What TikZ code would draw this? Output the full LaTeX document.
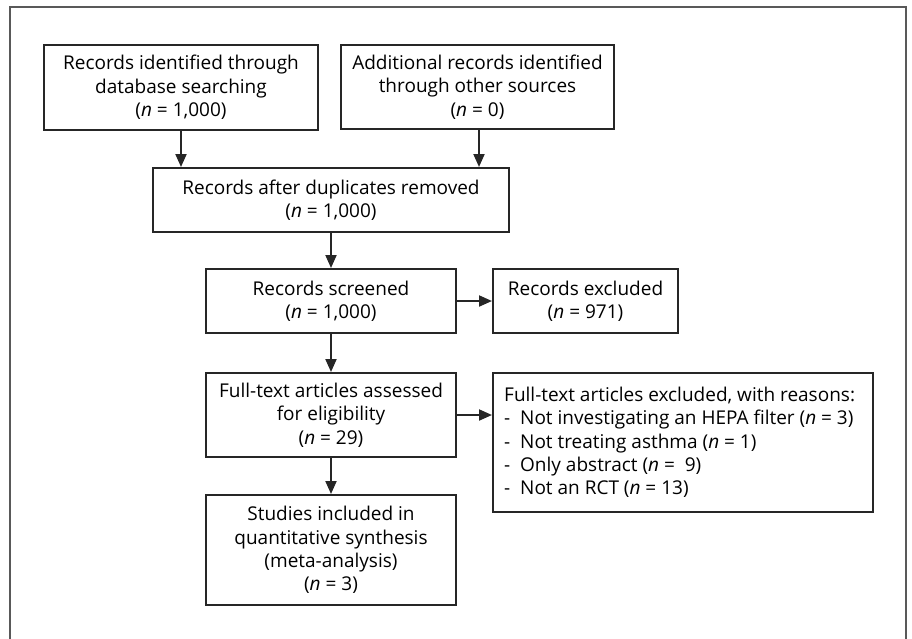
\documentclass[tikz,border=0pt]{standalone}
\usepackage{fontspec}
\setmainfont{Open Sans}
\usetikzlibrary{arrows.meta}
\begin{document}
\begin{tikzpicture}[x=1pt,y=-1pt,
  box/.style={draw=black!85,line width=2pt,rectangle,inner sep=0pt,align=center,
    font=\fontsize{19}{23.3}\selectfont},
  txt/.style={inner sep=0pt,align=left,font=\fontsize{19}{23.3}\selectfont},
  arr/.style={draw=black!85,line width=2pt,-{Triangle[length=13pt,width=11pt]}},
  frame/.style={draw=black!65,line width=1.4pt}]
\useasboundingbox (0,0) rectangle (912,638);
\draw[frame] (10,650) -- (10,7) -- (906,7) -- (906,650);
\node[box,minimum width=274pt,minimum height=85pt] (b1) at (181,87.5)
  {Records identified through\\database searching\\(\emph{n} = 1,000)};
\node[box,minimum width=273pt,minimum height=84pt] (b2) at (477.5,87)
  {Additional records identified\\through other sources\\(\emph{n} = 0)};
\node[box,minimum width=356pt,minimum height=64pt] (b3) at (331,200)
  {Records after duplicates removed\\(\emph{n} = 1,000)};
\node[box,minimum width=250pt,minimum height=64pt] (b4) at (331,301)
  {Records screened\\(\emph{n} = 1,000)};
\node[box,minimum width=185pt,minimum height=64pt] (b5) at (585.5,301)
  {Records excluded\\(\emph{n} = 971)};
\node[box,minimum width=250pt,minimum height=84pt] (b6) at (331,415)
  {Full-text articles assessed\\for eligibility\\(\emph{n} = 29)};
\node[box,minimum width=380pt,minimum height=139pt] (b7) at (683,442.5) {};
\node[txt,anchor=west] (b7t) at ([xshift=12pt]b7.west)
  {Full-text articles excluded, with reasons:\\
   -\ \ Not investigating an HEPA filter (\emph{n} = 3)\\
   -\ \ Not treating asthma (\emph{n} = 1)\\
   -\ \ Only abstract (\emph{n} =\ \ 9)\\
   -\ \ Not an RCT (\emph{n} = 13)};
\node[box,minimum width=250pt,minimum height=110pt] (b8) at (331,550)
  {Studies included in\\quantitative synthesis\\(meta-analysis)\\(\emph{n} = 3)};
\draw[arr] (b1.south) -- (b1.south |- b3.north);
\draw[arr] ([xshift=1.5pt]b2.south) -- ([xshift=1.5pt]b2.south |- b3.north);
\draw[arr] (b3.south) -- (b4.north);
\draw[arr] (b4.east) -- (b5.west);
\draw[arr] (b4.south) -- (b6.north);
\draw[arr] (b6.east) -- (b6.east -| b7.west);
\draw[arr] (b6.south) -- (b8.north);
\end{tikzpicture}
\end{document}
